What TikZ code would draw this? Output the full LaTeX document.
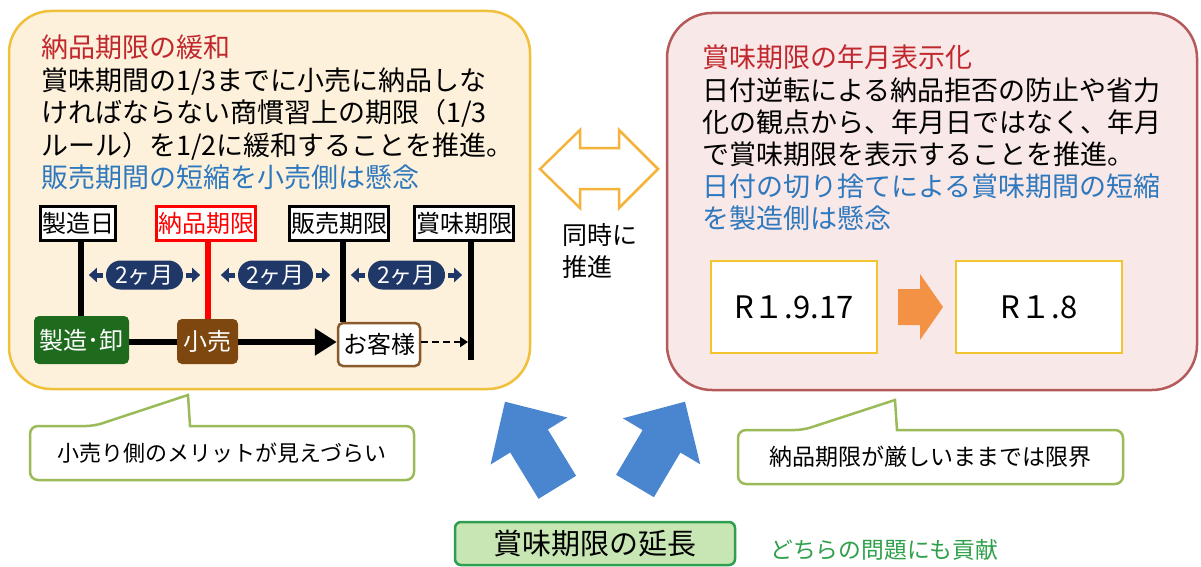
\documentclass[tikz,border=0pt]{standalone}
\usepackage{fontspec}
\newfontfamily\jp{Noto Sans CJK JP}
\usetikzlibrary{shapes.misc,arrows.meta}
\definecolor{lfill}{HTML}{FDF1DC}
\definecolor{lborder}{HTML}{F0C03A}
\definecolor{rfill}{HTML}{F9E8E8}
\definecolor{rborder}{HTML}{B55A5A}
\definecolor{tred}{HTML}{C0282D}
\definecolor{tblue}{HTML}{2E78BE}
\definecolor{navy}{HTML}{1F3868}
\definecolor{dkgreen}{HTML}{1E6B1E}
\definecolor{brown}{HTML}{7F4710}
\definecolor{cubrown}{HTML}{8B5A2B}
\definecolor{gold}{HTML}{F2C430}
\definecolor{orange}{HTML}{F39244}
\definecolor{cgreen}{HTML}{9BBB59}
\definecolor{bfill}{HTML}{C8E6B4}
\definecolor{bborder}{HTML}{2E9E50}
\definecolor{gtext}{HTML}{2EA04A}
\definecolor{barrow}{HTML}{4A86D0}
\definecolor{dgold}{HTML}{F4B43C}
\tikzset{
  fs/.style={font=\jp\fontsize{#1}{#1}\selectfont},
  ln/.style={fs=27, anchor=base west, inner sep=0pt},
  panel/.style={line width=2.5pt, inner sep=0pt},
  lbl/.style={draw=black, line width=3pt, fill=white, fs=24, minimum height=34pt, inner xsep=1.5pt, inner ysep=0pt},
  pill/.style={rounded rectangle, fill=navy, text=white, fs=23, minimum height=29pt, inner xsep=2pt, inner ysep=0pt},
  sarrow/.style={navy, line width=5pt, -{Triangle[length=8pt,width=14pt]}},
  vline/.style={line width=6pt},
  actor/.style={rounded corners=5pt, fs=24, inner sep=0pt},
  dbox/.style={draw=gold, line width=2pt, fill=white, fs=31, minimum width=166pt, minimum height=92pt},
  bubble/.style={draw=cgreen, line width=2.5pt, fill=white},
  btext/.style={inner sep=0pt},
  barr/.style={fill=barrow},
}
\begin{document}
\begin{tikzpicture}[x=1pt,y=-1pt]
\useasboundingbox (0,0) rectangle (1201,567);
\fill[white] (0,0) rectangle (1201,567);

% ---- panels
\node[panel, draw=lborder, fill=lfill, rounded corners=42pt, minimum width=521pt, minimum height=378pt] (L) at (269.5,200) {};
\node[panel, draw=rborder, fill=rfill, rounded corners=45pt, minimum width=530pt, minimum height=377pt] (R) at (932,201.5) {};

% ---- left texts
\node[ln, text=tred] (ta) at (41,57.3) {納品期限の緩和};
\node[ln] (tb) at (41,90.3) {賞味期間の1/3までに小売に納品しな};
\node[ln] (tc) at (41,122.8) {ければならない商慣習上の期限（1/3};
\node[ln] (td) at (41,155.3) {ルール）を1/2に緩和することを推進。};
\node[ln, text=tblue] (te) at (41,187.5) {販売期間の短縮を小売側は懸念};

% ---- right texts
\node[ln, text=tred] (ra) at (702,67.3) {賞味期限の年月表示化};
\node[ln] (rb) at (702,100.3) {日付逆転による納品拒否の防止や省力};
\node[ln] (rc) at (702,132.5) {化の観点から、年月日ではなく、年月};
\node[ln] (rd) at (702,164.5) {で賞味期限を表示することを推進。};
\node[ln, text=tblue] (re) at (702,196.5) {日付の切り捨てによる賞味期間の短縮};
\node[ln, text=tblue] (rf) at (702,228.5) {を製造側は懸念};

% ---- timeline labels
\node[lbl] (k1) at (78,223) {製造日};
\node[lbl, draw=red, text=red] (k2) at (206,223) {納品期限};
\node[lbl] (k3) at (339,223) {販売期限};
\node[lbl] (k4) at (464,223) {賞味期限};

\coordinate (x1) at (81,0);
\coordinate (x2) at (208,0);
\coordinate (x3) at (343,0);
\coordinate (e4) at (471,360);
\coordinate (ay) at (0,342);

% ---- actors
\node[actor, fill=dkgreen, text=white, minimum width=95pt, minimum height=48pt] (mk) at (81.5,340) {製造･卸};
\node[actor, draw=cubrown, line width=2.5pt, fill=white, minimum width=82pt, minimum height=43pt] (cu) at (379,344.5) {お客様};
\draw[line width=6pt, -{Triangle[length=22pt,width=26pt]}] (mk.east |- ay) -- (cu.west |- ay);
\node[actor, fill=brown, text=white, minimum width=61pt, minimum height=45pt] (rt) at (207.5,341.5) {小売};

% ---- vertical lines
\draw[vline] (k1.south -| x1) -- (mk.north -| x1);
\draw[vline, red] (k2.south -| x2) -- (rt.north -| x2);
\draw[vline] (k3.south -| x3) -- (cu.north -| x3);
\draw[vline] (k4.south -| e4) -- (e4);
\draw[line width=2.5pt, dash pattern=on 7pt off 4pt, -{Triangle[length=8pt,width=10pt]}, shorten >=3pt] (cu.east |- ay) -- (e4 |- ay);

% ---- 2 months pills
\node[pill, minimum width=81pt] (p1) at (144.5,275) {2ヶ月};
\node[pill, minimum width=79pt] (p2) at (275.5,275) {2ヶ月};
\node[pill, minimum width=81pt] (p3) at (406.5,275) {2ヶ月};
\foreach \p in {p1,p2,p3}{
  \draw[sarrow] ([xshift=-3pt]\p.west) -- ++(-14,0);
  \draw[sarrow] ([xshift=3pt]\p.east) -- ++(14,0);
}

% ---- center double arrow
\draw[dgold, line width=2.5pt, fill=white, line join=miter]
  (540,169) -- (580,130) -- (580,148) -- (619,148) -- (619,130) -- (658,169)
  -- (619,208) -- (619,189) -- (580,189) -- (580,208) -- cycle;
\node[fs=25, anchor=base west, inner sep=0pt] (s1) at (562,244.5) {同時に};
\node[fs=25, anchor=base west, inner sep=0pt] (s2) at (562,276.5) {推進};

% ---- date boxes
\node[dbox] (d1) at (794,307) {R１.9.17};
\node[dbox] (d2) at (1039,307) {R１.8};
\fill[orange] (898,289) -- (920,289) -- (920,274) -- (943,307) -- (920,340) -- (920,325) -- (898,325) -- cycle;

% ---- callouts
\draw[bubble] (30,453) [rounded corners=8pt] -- (30,426) -- (94,426) [sharp corners] -- (188,395) -- (190,426) [rounded corners=8pt] -- (414,426) -- (414,480) -- (30,480) -- cycle;
\node[btext, fs=22] (b1) at (222,453) {小売り側のメリットが見えづらい};
\draw[bubble] (738,457) [rounded corners=8pt] -- (738,430) -- (803,430) [sharp corners] -- (895,400) -- (897,430) [rounded corners=8pt] -- (1123,430) -- (1123,484) -- (738,484) -- cycle;
\node[btext, fs=23] (b2) at (930.5,457) {納品期限が厳しいままでは限界};

% ---- blue arrows
\fill[barr] (576.1,475.8) -- (547.8,429.5) -- (567.4,417.5) -- (505,401.7) -- (490.6,464.5) -- (510.2,452.5) -- (538.5,498.8) -- cycle;
\fill[barr] (653.9,497.2) -- (680.4,452.5) -- (700.2,464.3) -- (685,401.7) -- (622.8,418.3) -- (642.6,430.1) -- (616.1,474.8) -- cycle;

% ---- bottom
\node[draw=bborder, fill=bfill, line width=2.5pt, rounded corners=6pt, minimum width=280pt, minimum height=43pt, fs=29, inner sep=0pt] (ext) at (595,543.5) {賞味期限の延長};
\node[fs=22.8, text=gtext, anchor=base west, inner sep=0pt] (ct) at (770,558.7) {どちらの問題にも貢献};
\end{tikzpicture}
\end{document}
